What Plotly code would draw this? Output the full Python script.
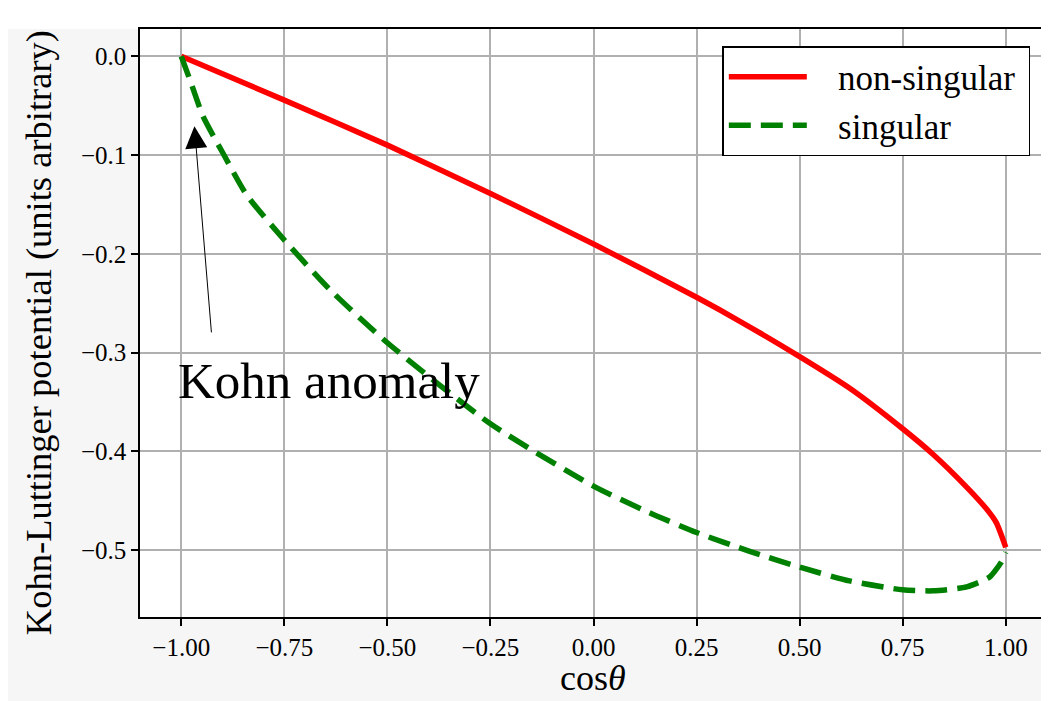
import plotly.graph_objects as go

# ---- data ----
x_nonsing = [-1.0, -0.75, -0.5, -0.25, 0.0, 0.25, 0.354, 0.5, 0.625, 0.75, 0.824, 0.905, 0.953, 0.977, 1.0]
y_nonsing = [0.0, -0.0445, -0.090, -0.139, -0.190, -0.244, -0.268, -0.304, -0.337, -0.377, -0.403, -0.436, -0.458, -0.472, -0.497]

x_sing = [-1.0, -0.978, -0.947, -0.899, -0.842, -0.75, -0.64, -0.5, -0.25, 0.0, 0.136, 0.25,
          0.379, 0.5, 0.621, 0.75, 0.824, 0.905, 0.961, 0.989, 1.0]
y_sing = [0.0, -0.025, -0.061, -0.098, -0.140, -0.186, -0.236, -0.290, -0.372, -0.435, -0.462, -0.482,
          -0.501, -0.517, -0.531, -0.540, -0.541, -0.537, -0.527, -0.512, -0.502]

x_tickvals = [-1.0, -0.75, -0.5, -0.25, 0.0, 0.25, 0.5, 0.75, 1.0]
x_ticktext = ["\u22121.00", "\u22120.75", "\u22120.50", "\u22120.25", "0.00", "0.25", "0.50", "0.75", "1.00"]
y_tickvals = [0.0, -0.1, -0.2, -0.3, -0.4, -0.5]
y_ticktext = ["0.0", "\u22120.1", "\u22120.2", "\u22120.3", "\u22120.4", "\u22120.5"]

x_range = [-1.1, 1.1]
y_range = [-0.5675, 0.0275]

arrow_tip = (-0.968, -0.071)
arrow_tail = (-0.9265, -0.281)
label_pos = (-1.013, -0.329)
label_text = "Kohn anomaly"
x_title = "cos<i>θ</i>"
y_title = "Kohn-Luttinger potential (units arbitrary)"
series_names = ["non-singular", "singular"]

FONT = "Liberation Serif, Times New Roman, serif"
LPAD = "\u00a0\u00a0\u00a0"
RPAD = "\u00a0"

fig = go.Figure()
fig.add_trace(go.Scatter(x=x_nonsing, y=y_nonsing, mode="lines", name=LPAD + series_names[0] + RPAD,
                         line=dict(color="red", width=5.5, shape="spline", smoothing=0.6)))
fig.add_trace(go.Scatter(x=x_sing, y=y_sing, mode="lines", name=LPAD + series_names[1] + RPAD,
                         line=dict(color="green", width=5.5, dash="22px,10px", shape="spline", smoothing=0.6)))

# white strip above the axes (reference has faint gray texture elsewhere outside the axes)
fig.add_shape(type="rect", xref="paper", yref="paper", x0=-0.2, x1=1.01, y0=1.0, y1=1.06,
              fillcolor="white", line_width=0, layer="below")

fig.add_annotation(x=arrow_tip[0], y=arrow_tip[1], ax=arrow_tail[0], ay=arrow_tail[1],
                   xref="x", yref="y", axref="x", ayref="y", text="", showarrow=True,
                   arrowhead=2, arrowsize=4.4, arrowwidth=1, arrowcolor="black", standoff=0)
fig.add_annotation(x=label_pos[0], y=label_pos[1], xref="x", yref="y", text=label_text,
                   showarrow=False, xanchor="left", yanchor="middle",
                   font=dict(family=FONT, size=51, color="black"))

# axis titles as annotations for precise placement
fig.add_annotation(x=0.4996, y=-0.1415, xref="paper", yref="paper", text=x_title, showarrow=False,
                   xanchor="center", yanchor="bottom", font=dict(family=FONT, size=36, color="black"))
fig.add_annotation(x=-0.1125, y=0.4844, xref="paper", yref="paper", text=y_title, showarrow=False,
                   textangle=-90, xanchor="center", yanchor="middle",
                   font=dict(family=FONT, size=36.5, color="black"))

axis_common = dict(showline=True, mirror=True, linecolor="black", linewidth=1.5,
                   ticks="outside", ticklen=7, tickwidth=1.5, tickcolor="black",
                   showgrid=True, gridcolor="#b0b0b0", gridwidth=1.5, zeroline=False,
                   automargin=False,
                   tickfont=dict(family=FONT, size=25, color="black"))

fig.update_xaxes(range=x_range, tickvals=x_tickvals, ticktext=x_ticktext, **axis_common)
fig.update_yaxes(range=y_range, tickvals=y_tickvals, ticktext=y_ticktext, **axis_common)

# the page places the figure 8px from the top-left corner, so size/margins compensate
fig.update_layout(
    width=1041, height=693,
    margin=dict(l=132, r=2, t=21, b=84),
    paper_bgcolor="#f6f6f6", plot_bgcolor="white",
    font=dict(family=FONT, color="black"),
    legend=dict(x=0.9816, y=0.971, xanchor="right", yanchor="top",
                bgcolor="white", bordercolor="black", borderwidth=1.5,
                font=dict(family=FONT, size=35, color="black"), itemwidth=78),
    showlegend=True,
)

fig.write_html("out.html")
